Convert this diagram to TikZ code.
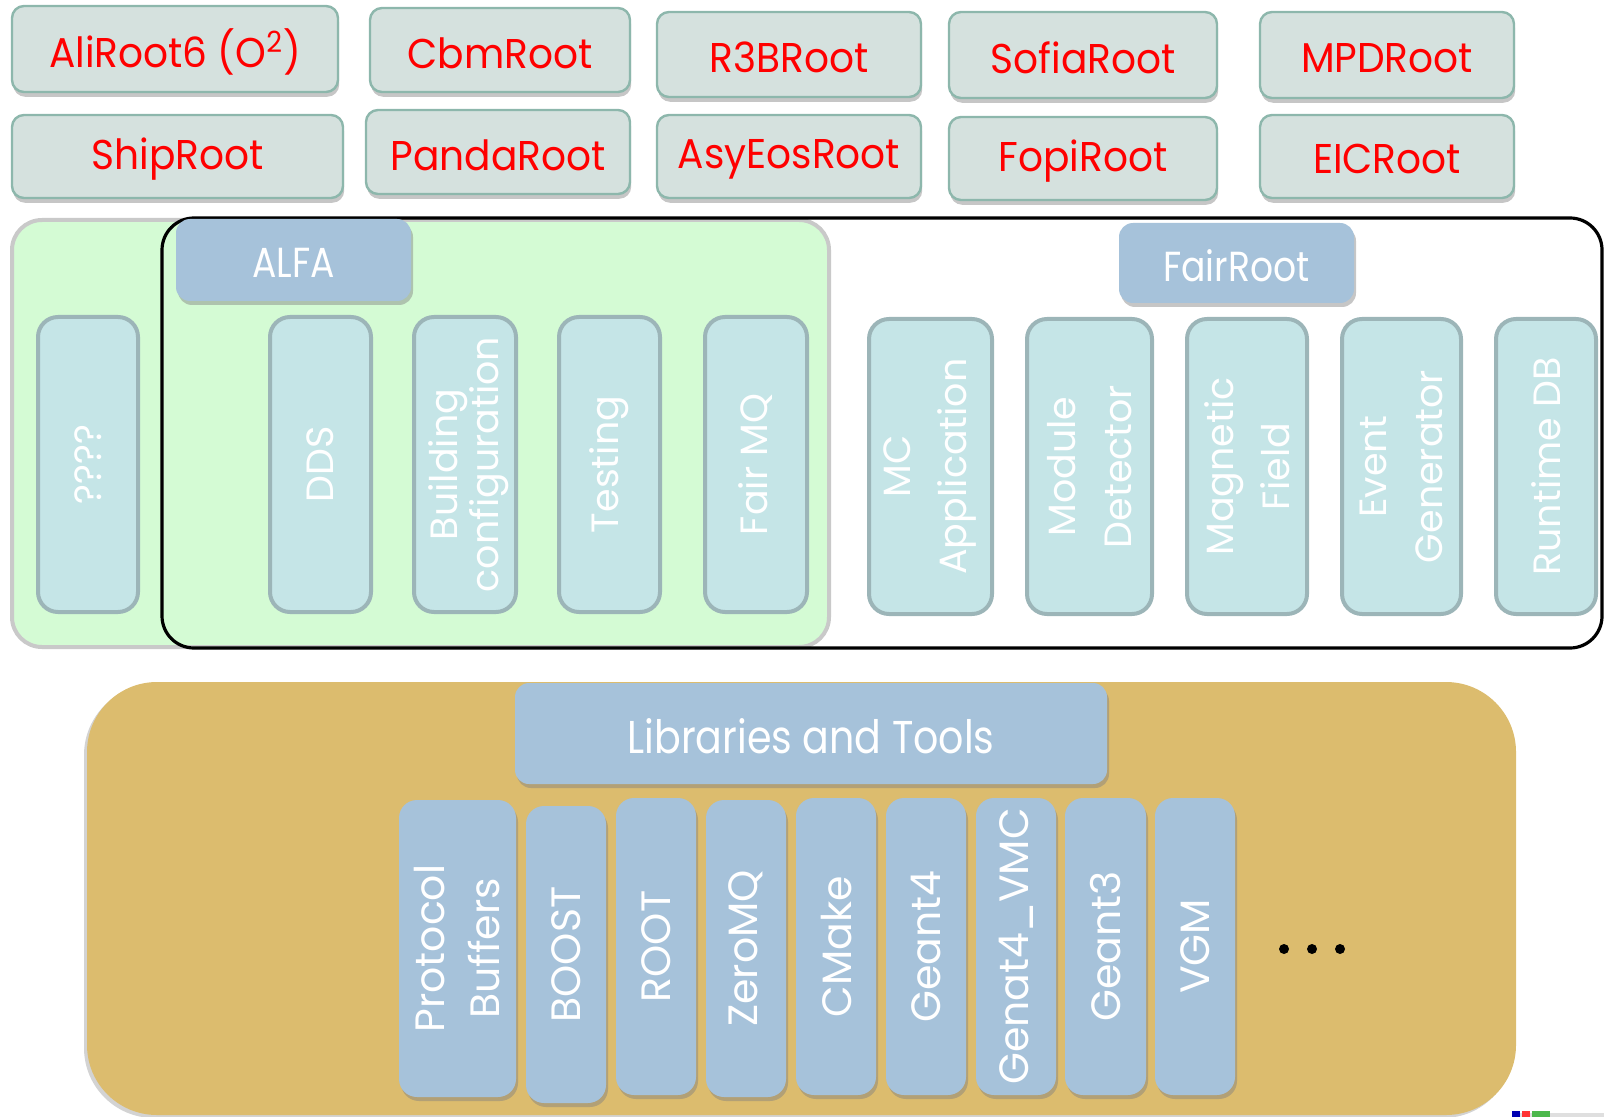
\documentclass[tikz,border=0pt]{standalone}
\usepackage{fontspec}
\setmainfont{Poppins}
\newfontfamily\geoc[FakeStretch=0.86]{Poppins}
\newfontfamily\geot[FakeStretch=0.94]{Poppins}
\usetikzlibrary{shadows}
\definecolor{topfill}{HTML}{D5E1DE}
\definecolor{topdraw}{HTML}{8DB7AC}
\definecolor{redtxt}{HTML}{FF0000}
\definecolor{greenbg}{HTML}{D4FBD4}
\definecolor{greenbd}{HTML}{C9C9C9}
\definecolor{hdrblue}{HTML}{A6C2DA}
\definecolor{colfill}{HTML}{C5E5E7}
\definecolor{coldraw}{HTML}{9CB5B8}
\definecolor{goldbg}{HTML}{DCBC6E}
\newcommand\placebox[6]{%
  \pgfmathsetmacro\bw{(#5-#3)*0.5}%
  \pgfmathsetmacro\bh{(#6-#4)*0.5}%
  \node[#1, minimum width=\bw pt, minimum height=\bh pt] (#2) at ({(#3+#5)/2},{(#4+#6)/2}) {};}
\tikzset{
  topbox/.style={rectangle, rounded corners=6pt, fill=topfill, draw=topdraw, line width=1.2pt, inner sep=0,
     drop shadow={shadow xshift=0.6pt, shadow yshift=-2.4pt, opacity=0.45}},
  toptext/.style={text=redtxt, font=\geot\fontsize{20.8}{22}\selectfont, inner sep=0, yshift=-1.5pt},
  hdr/.style={rectangle, rounded corners=7pt, fill=hdrblue, inner sep=0,
     drop shadow={shadow xshift=1pt, shadow yshift=-2pt, opacity=0.45}},
  hdrtext/.style={text=white, font=\geoc\fontsize{21}{24}\selectfont, inner sep=0, yshift=-1.5pt},
  colbox/.style={rectangle, rounded corners=10pt, fill=colfill, draw=coldraw, line width=2pt, inner sep=0},
  coltext/.style={rotate=90, text=white, align=center, inner sep=0, font=\fontsize{19}{28}\selectfont},
  libbox/.style={rectangle, rounded corners=9pt, fill=hdrblue, inner sep=0,
     drop shadow={shadow xshift=1pt, shadow yshift=-2pt, opacity=0.45}},
  libtext/.style={rotate=90, text=white, align=center, inner sep=0, font=\fontsize{20.5}{27.5}\selectfont},
  dot/.style={circle, fill=black, inner sep=0, minimum size=5pt},
}
\begin{document}
\begin{tikzpicture}[x=0.5pt,y=-0.5pt]
\useasboundingbox (0,0) rectangle (1604,1117);
% top row boxes
\placebox{topbox}{ali}{12}{6}{338}{92}
\placebox{topbox}{cbm}{370}{8}{630}{92}
\placebox{topbox}{r3b}{657}{12}{921}{97}
\placebox{topbox}{sofia}{949}{12}{1217}{98}
\placebox{topbox}{mpd}{1260}{12}{1514}{98}
\placebox{topbox}{ship}{12}{115}{343}{198}
\placebox{topbox}{panda}{366}{110}{630}{194}
\placebox{topbox}{asy}{657}{115}{921}{198}
\placebox{topbox}{fopi}{949}{117}{1217}{200}
\placebox{topbox}{eic}{1260}{115}{1514}{198}
\node[toptext] (ali-t) at (ali) {AliRoot6 (O\textsuperscript{2})};
\node[toptext] (cbm-t) at (cbm) {CbmRoot};
\node[toptext] (r3b-t) at (r3b) {R3BRoot};
\node[toptext] (sofia-t) at (sofia) {SofiaRoot};
\node[toptext] (mpd-t) at (mpd) {MPDRoot};
\node[toptext] (ship-t) at (ship) {ShipRoot};
\node[toptext] (panda-t) at (panda) {PandaRoot};
\node[toptext] (asy-t) at (asy) {AsyEosRoot};
\node[toptext] (fopi-t) at (fopi) {FopiRoot};
\node[toptext] (eic-t) at (eic) {EICRoot};
% middle frames
\placebox{rectangle, rounded corners=15pt, fill=greenbg, draw=greenbd, line width=2pt, inner sep=0}{alfaframe}{12}{220}{829}{647}
\placebox{rectangle, rounded corners=16pt, draw=black, line width=1.6pt, inner sep=0}{fairframe}{162}{218}{1602}{648}
\placebox{hdr}{alfa}{176}{219}{411}{301}
\node[hdrtext] (alfa-t) at (alfa) {ALFA};
\placebox{hdr}{fairroot}{1119}{223}{1354}{303}
\node[hdrtext] (fairroot-t) at (fairroot) {FairRoot};
% ALFA columns
\placebox{colbox}{qq}{38}{317}{138}{612}
\placebox{colbox}{dds}{270}{317}{371}{612}
\placebox{colbox}{build}{414}{317}{516}{612}
\placebox{colbox}{test}{559}{317}{660}{612}
\placebox{colbox}{fmq}{705}{317}{807}{612}
\node[coltext] (qq-t) at (qq) {????};
\node[coltext] (dds-t) at (dds) {DDS};
\node[coltext, font=\fontsize{19}{19}\selectfont] (build-t) at ([xshift=2pt]build.center) {Building\\configuration};
\node[coltext] (test-t) at (test) {Testing};
\node[coltext] (fmq-t) at (fmq) {Fair MQ};
% FairRoot columns
\placebox{colbox}{mc}{869}{319}{992}{614}
\placebox{colbox}{mod}{1027}{319}{1152}{614}
\placebox{colbox}{mag}{1187}{319}{1307}{614}
\placebox{colbox}{evg}{1342}{319}{1461}{614}
\placebox{colbox}{rdb}{1496}{319}{1596}{614}
\node[coltext] (mc-t) at (mc) {MC\\Application};
\node[coltext] (mod-t) at (mod) {Module\\Detector};
\node[coltext] (mag-t) at (mag) {Magnetic\\Field};
\node[coltext] (evg-t) at (evg) {Event\\Generator};
\node[coltext] (rdb-t) at (rdb) {Runtime DB};
% libraries
\placebox{rectangle, rounded corners=35pt, fill=goldbg, inner sep=0, drop shadow={shadow xshift=-1.5pt, shadow yshift=-1.5pt, opacity=0.35}}{libframe}{87}{682}{1516}{1115}
\placebox{hdr}{libs}{515}{683}{1107}{784}
\node[hdrtext, font=\geoc\fontsize{23}{26}\selectfont] (libs-t) at (libs) {Libraries and Tools};
\placebox{libbox}{pb}{399}{800}{516}{1097}
\placebox{libbox}{boost}{526}{806}{606}{1103}
\placebox{libbox}{root}{616}{798}{696}{1095}
\placebox{libbox}{zmq}{706}{800}{786}{1097}
\placebox{libbox}{cmake}{796}{798}{876}{1095}
\placebox{libbox}{g4}{886}{798}{966}{1095}
\placebox{libbox}{g4vmc}{976}{798}{1056}{1095}
\placebox{libbox}{g3}{1065}{798}{1146}{1095}
\placebox{libbox}{vgm}{1155}{798}{1235}{1095}
\node[libtext] (pb-t) at (pb) {Protocol\\Buffers};
\node[libtext] (boost-t) at (boost) {BOOST};
\node[libtext] (root-t) at (root) {ROOT};
\node[libtext] (zmq-t) at (zmq) {ZeroMQ};
\node[libtext] (cmake-t) at (cmake) {CMake};
\node[libtext] (g4-t) at (g4) {Geant4};
\node[libtext] (g4vmc-t) at (g4vmc) {Genat4\_VMC};
\node[libtext] (g3-t) at (g3) {Geant3};
\node[libtext] (vgm-t) at (vgm) {VGM};
\node[dot] (d1) at (1284,949) {};
\node[dot] (d2) at (1312,949) {};
\node[dot] (d3) at (1340,949) {};
% screenshot edge artefacts
\fill[gray!25] (1512,1113) rectangle (1604,1117);
\fill[blue!70!black] (1512,1111) rectangle (1520,1117);
\fill[red!80] (1522,1111) rectangle (1530,1117);
\fill[green!60!black!70] (1532,1111) rectangle (1550,1117);
\end{tikzpicture}
\end{document}
